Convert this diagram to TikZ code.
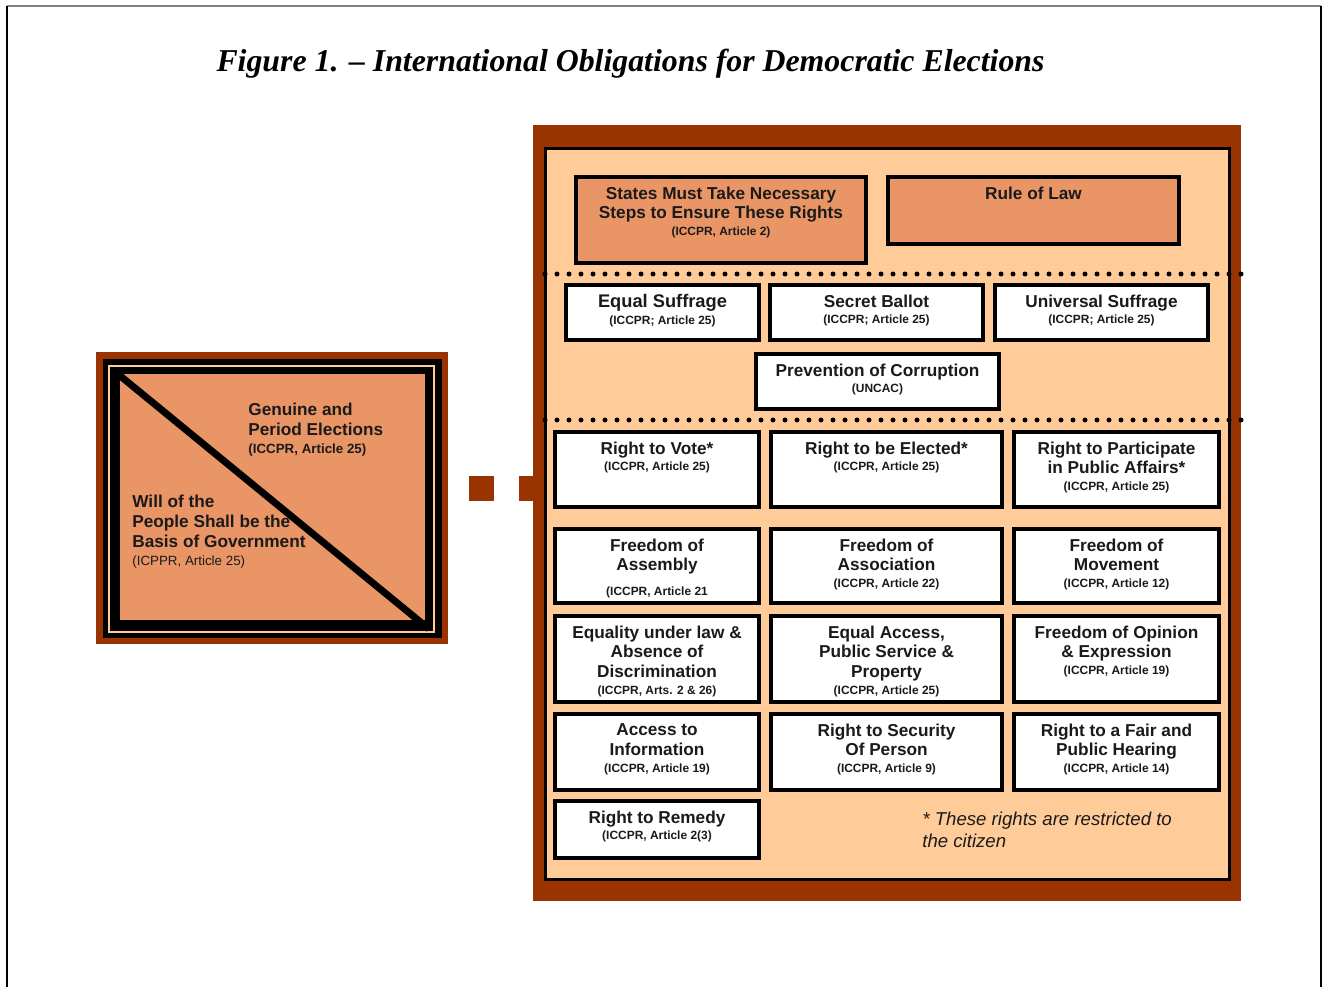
\documentclass[tikz,border=0pt]{standalone}
\usepackage{fontspec}
\setmainfont{Liberation Sans}
\newfontfamily\titlefont{Liberation Serif}
\definecolor{brn}{RGB}{153,51,0}
\definecolor{peach}{RGB}{255,204,153}
\definecolor{boxor}{RGB}{234,149,101}
\definecolor{txt}{RGB}{26,26,26}
\newcommand{\cit}{\fontsize{6.8}{8}\selectfont}
\tikzset{rt/.style = {draw, line width=0.7mm, fill=white, inner sep=0pt},
         ob/.style = {rt, fill=boxor},
         tx/.style = {anchor=north, align=center, inner sep=0pt, yshift=-2.2mm, text=txt,
                      font=\fontsize{9.8}{11.3}\selectfont\bfseries},
         lt/.style = {anchor=north west, align=left, inner sep=0pt, text=txt,
                      font=\fontsize{9.8}{11.3}\selectfont\bfseries},
         dl/.style = {line width=1mm, dash pattern=on 0pt off 2.4mm, line cap=round},
         jt/.style = {brn, line width=5mm, dash pattern=on 5mm off 5mm, dash phase=5.8mm}}

\begin{document}
\begin{tikzpicture}[x=0.2mm, y=-0.2mm]
    \useasboundingbox (0,0) rectangle (1322,987);
    \draw[gray, line width=0.4mm] (7,6) -- (1321,6);
    \draw[line width=0.3mm] (7,6) -- (7,987) (1321,6) -- (1321,987);
    \node[anchor=base, inner sep=0pt, font=\titlefont\fontsize{18.1}{22}\selectfont\bfseries\itshape] (title) at (630.5,71)
        {Figure 1. – International Obligations for Democratic Elections};

    % left square
    \node[fill=brn, minimum width=70.4mm, minimum height=58.4mm, inner sep=0pt] (lbox) at (272,498) {};
    \fill (103,359) rectangle (442,638);
    \draw[peach, line width=0.4mm] (109,366) rectangle (434,632);
    \fill[boxor] (120,374) rectangle (425,620);
    \draw[line width=1.4mm] (113,370) -- (429,629);
    \node[lt] (gen) at (248,403) {Genuine and\\Period Elections\\[-1.1pt]{\fontsize{7.6}{9}\selectfont (ICCPR, Article 25)}};
    \node[lt] (will) at (132,495) {Will of the\\People Shall be the\\Basis of Government\\[-1.1pt]{\mdseries\fontsize{7.6}{9}\selectfont (ICPPR, Article 25)}};

    % right panel
    \node[fill=brn, minimum width=141.6mm, minimum height=155.2mm, inner sep=0pt] (panel) at (887,513) {};
    \coordinate (jn) at (500,488.5);
    \draw[jt] (jn -| lbox.east) -- (jn -| panel.west);
    \draw[fill=peach, line width=0.6mm] (545,148) rectangle (1229,879);
    \draw[dl] (545,274) -- (1243,274);
    \draw[dl] (545,420) -- (1243,420);

    \node[ob, minimum width=58mm, minimum height=17.2mm, label={[tx]north:{States Must Take Necessary\\Steps to Ensure These Rights\\[-1.7pt]\cit (ICCPR, Article 2)}}] (steps) at (721,220) {};
    \node[ob, minimum width=58.2mm, minimum height=13.4mm, label={[tx]north:{Rule of Law}}] (law) at (1033.5,210.5) {};

    \node[rt, minimum width=38.6mm, minimum height=11mm, label={[tx]north:{{\fontsize{10.4}{11.3}\selectfont Equal Suffrage}\\[-1.7pt]\cit (ICCPR; Article 25)}}] (eqs) at (662.5,312.5) {};
    \node[rt, minimum width=42.6mm, minimum height=11mm, label={[tx]north:{Secret Ballot\\[-1.7pt]\cit (ICCPR; Article 25)}}] (sec) at (876.5,312.5) {};
    \node[rt, minimum width=42.6mm, minimum height=11mm, label={[tx]north:{Universal Suffrage\\[-1.7pt]\cit (ICCPR; Article 25)}}] (uni) at (1101.5,312.5) {};
    \node[rt, minimum width=48.6mm, minimum height=11mm, label={[tx]north:{Prevention of Corruption\\[-1.7pt]\cit (UNCAC)}}] (cor) at (877.5,381.5) {};

    \node[rt, minimum width=40.8mm, minimum height=15mm, label={[tx]north:{Right to Vote*\\[-1.7pt]\cit (ICCPR, Article 25)}}] (vote) at (657,469.5) {};
    \node[rt, minimum width=46.2mm, minimum height=15mm, label={[tx]north:{Right to be Elected*\\[-1.7pt]\cit (ICCPR, Article 25)}}] (elect) at (886.5,469.5) {};
    \node[rt, minimum width=41mm, minimum height=15mm, label={[tx]north:{Right to Participate\\in Public Affairs*\\[-1.7pt]\cit (ICCPR, Article 25)}}] (part) at (1116.5,469.5) {};

    \node[rt, minimum width=40.8mm, minimum height=14.8mm, label={[tx]north:{Freedom of\\Assembly\\[2.9pt]\cit (ICCPR, Article 21}}] (asm) at (657,566) {};
    \node[rt, minimum width=46.2mm, minimum height=14.8mm, label={[tx]north:{Freedom of\\Association\\[-1.7pt]\cit (ICCPR, Article 22)}}] (assoc) at (886.5,566) {};
    \node[rt, minimum width=41mm, minimum height=14.8mm, label={[tx]north:{Freedom of\\Movement\\[-1.7pt]\cit (ICCPR, Article 12)}}] (move) at (1116.5,566) {};

    \node[rt, minimum width=40.8mm, minimum height=17.2mm, label={[tx]north:{Equality under law \&\\Absence of\\Discrimination\\[-1.7pt]\cit (ICCPR, Arts. 2 \& 26)}}] (eql) at (657,659) {};
    \node[rt, minimum width=46.2mm, minimum height=17.2mm, label={[tx]north:{Equal Access,\\Public Service \&\\Property\\[-1.7pt]\cit (ICCPR, Article 25)}}] (acc) at (886.5,659) {};
    \node[rt, minimum width=41mm, minimum height=17.2mm, label={[tx]north:{Freedom of Opinion\\\& Expression\\[-1.7pt]\cit (ICCPR, Article 19)}}] (opin) at (1116.5,659) {};

    \node[rt, minimum width=40.8mm, minimum height=15.2mm, label={[tx]north:{Access to\\Information\\[-1.7pt]\cit (ICCPR, Article 19)}}] (info) at (657,752) {};
    \node[rt, minimum width=46.2mm, minimum height=15.2mm, label={[tx]north:{Right to Security\\Of Person\\[-1.7pt]\cit (ICCPR, Article 9)}}] (secp) at (886.5,752) {};
    \node[rt, minimum width=41mm, minimum height=15.2mm, label={[tx]north:{Right to a Fair and\\Public Hearing\\[-1.7pt]\cit (ICCPR, Article 14)}}] (fair) at (1116.5,752) {};

    \node[rt, minimum width=40.8mm, minimum height=11.4mm, label={[tx]north:{Right to Remedy\\[-1.7pt]\cit (ICCPR, Article 2(3)}}] (rem) at (657,829.5) {};
    \node[anchor=north west, align=left, inner sep=0pt, text=txt, font=\fontsize{10.6}{12.5}\selectfont\itshape] (note) at (922,812)
        {* These rights are restricted to\\the citizen};
\end{tikzpicture}
\end{document}
